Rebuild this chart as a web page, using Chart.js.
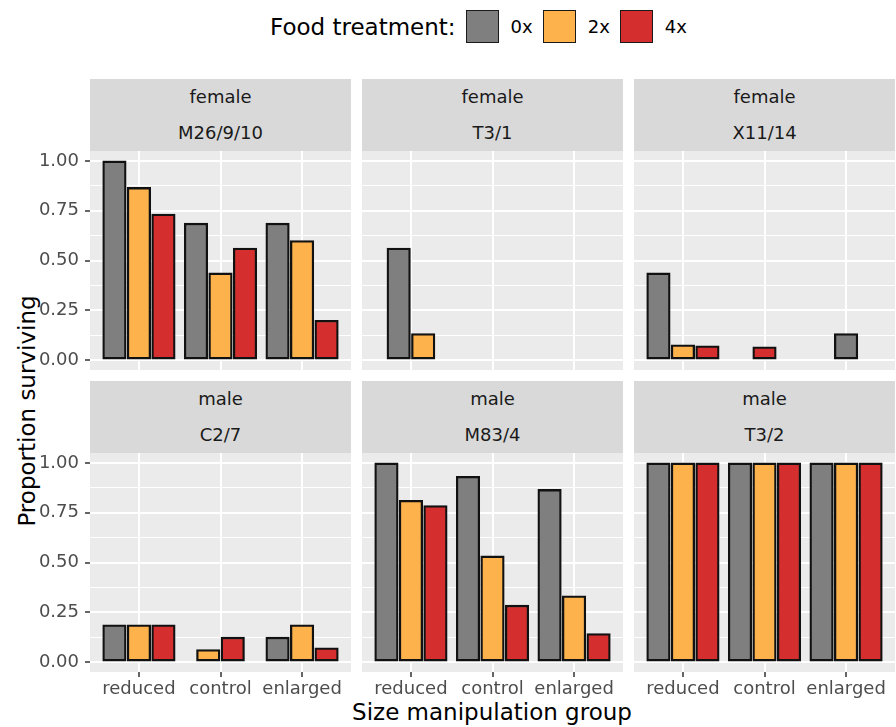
<!DOCTYPE html>
<html>
<head>
<meta charset="utf-8">
<script src="https://cdn.jsdelivr.net/npm/chart.js@4.4.1/dist/chart.umd.min.js"></script>
<style>
    body { margin: 0; width: 896px; height: 727px; position: relative; background: #fff; overflow: hidden;
           font-family: 'DejaVu Sans', sans-serif; }
    canvas { position: absolute; }
    .strip { position: absolute; background: #d9d9d9; color: #1a1a1a; font-size: 18px; text-align: center; }
    .strip div { height: 36px; line-height: 36px; }
    .title { position: absolute; color: #000; font-size: 23px; white-space: nowrap; }
    #legend { position: absolute; left: 270px; top: 10px; height: 33px; display: flex; align-items: center; }
    #legend .lt { font-size: 23px; margin-right: 10px; }
    #legend .key { width: 31px; height: 31px; border: 1.5px solid #1a1a1a; margin-right: 12px; }
    #legend .lab { font-size: 18px; margin-right: 10px; }
</style>
</head>
<body>
<div id="legend"><span class="lt">Food treatment:</span></div>
<div class="title" style="left: 492px; top: 712px; transform: translate(-50%, -50%);">Size manipulation group</div>
<div class="title" style="left: 27px; top: 411px; transform: translate(-50%, -50%) rotate(-90deg);">Proportion surviving</div>

<script>
// categories
const groups = ['reduced', 'control', 'enlarged'];
const treatments = ['0x', '2x', '4x'];
const treatmentColors = ['#7f7f7f', '#feb24c', '#d42f2e'];

// facets
const sexes = ['female', 'female', 'female', 'male', 'male', 'male'];
const lines = ['M26/9/10', 'T3/1', 'X11/14', 'C2/7', 'M83/4', 'T3/2'];

// proportion surviving, one row per food treatment (0x, 2x, 4x), columns = groups
const survM26 = [[1.00, 0.6875, 0.6875], [0.867, 0.4375, 0.60], [0.733, 0.5625, 0.20]];
const survT31 = [[0.5625, null, null], [0.133, null, null], [null, null, null]];
const survX11 = [[0.4375, null, 0.133], [0.077, null, null], [0.0714, 0.0667, null]];
const survC27 = [[0.1875, null, 0.125], [0.1875, 0.0625, 0.1875], [0.1875, 0.125, 0.0714]];
const survM83 = [[1.00, 0.933, 0.867], [0.8125, 0.533, 0.333], [0.786, 0.2857, 0.1429]];
const survT32 = [[1.00, 1.00, 1.00], [1.00, 1.00, 1.00], [1.00, 1.00, 1.00]];
const panelValues = [survM26, survT31, survX11, survC27, survM83, survT32];

const yTicks = [0, 0.25, 0.5, 0.75, 1];

// layout of the facet grid
const colLeft = [90, 362, 634];
const stripTop = [79, 381];
const plotTop = [151, 453];
const panelW = 261, plotH = 219, stripH = 72;

const FONT = "'DejaVu Sans', sans-serif";
const yGrid = [];
yTicks.forEach((v, i) => {
    yGrid.push(v);
    if (i < yTicks.length - 1) yGrid.push((v + yTicks[i + 1]) / 2);
});
const isMajor = v => yTicks.some(t => Math.abs(t - v) < 1e-9);

// legend
const legend = document.getElementById('legend');
treatments.forEach((t, k) => {
    const key = document.createElement('span');
    key.className = 'key';
    key.style.background = treatmentColors[k];
    const lab = document.createElement('span');
    lab.className = 'lab';
    lab.textContent = t;
    legend.appendChild(key);
    legend.appendChild(lab);
});

const panelBg = {
    id: 'panelBg',
    beforeDraw(chart) {
        const a = chart.chartArea;
        chart.ctx.save();
        chart.ctx.fillStyle = '#ebebeb';
        chart.ctx.fillRect(a.left, a.top, a.right - a.left, a.bottom - a.top);
        chart.ctx.restore();
    }
};

// keep the plot area exactly where the facet grid needs it
function noPad(s) {
    s.paddingLeft = 0;
    s.paddingRight = 0;
    s.paddingTop = 0;
    s.paddingBottom = 0;
}

function makePanel(i) {
    const col = i % 3, row = Math.floor(i / 3);
    const isLeft = col === 0, isBottom = row === 1;
    const axisW = isLeft ? 90 : 0;
    const axisH = isBottom ? 32 : 0;

    const strip = document.createElement('div');
    strip.className = 'strip';
    strip.style.left = colLeft[col] + 'px';
    strip.style.top = stripTop[row] + 'px';
    strip.style.width = panelW + 'px';
    strip.style.height = stripH + 'px';
    strip.innerHTML = '<div>' + sexes[i] + '</div><div>' + lines[i] + '</div>';
    document.body.appendChild(strip);

    const canvas = document.createElement('canvas');
    canvas.width = panelW + axisW;
    canvas.height = plotH + axisH;
    canvas.style.left = (colLeft[col] - axisW) + 'px';
    canvas.style.top = plotTop[row] + 'px';
    document.body.appendChild(canvas);

    const values = panelValues[i];
    const datasets = treatments.map((t, k) => ({
        label: t,
        data: groups.map((g, j) => ({ x: j + 1, y: values[k][j] })),
        backgroundColor: treatmentColors[k],
        borderColor: '#111',
        borderWidth: 2.3,
        borderSkipped: false,
        skipNull: true,
        barThickness: 24.5,
        maxBarThickness: 23.5
    }));

    new Chart(canvas.getContext('2d'), {
        type: 'bar',
        data: { datasets: datasets },
        plugins: [panelBg],
        options: {
            responsive: false,
            animation: false,
            devicePixelRatio: 1,
            layout: { padding: 0 },
            plugins: { legend: { display: false }, tooltip: { enabled: false } },
            scales: {
                x: {
                    type: 'linear',
                    min: 0.4,
                    max: 3.6,
                    bounds: 'data',
                    offset: false,
                    afterBuildTicks: s => { s.ticks = groups.map((g, j) => ({ value: j + 1 })); },
                    afterFit: s => { s.height = axisH; noPad(s); },
                    ticks: {
                        display: isBottom,
                        autoSkip: false,
                        maxRotation: 0,
                        padding: 2,
                        color: '#4d4d4d',
                        font: { family: FONT, size: 18 },
                        callback: v => groups[Math.round(v) - 1]
                    },
                    grid: {
                        offset: false,
                        color: '#ffffff',
                        lineWidth: 2,
                        drawTicks: isBottom,
                        tickLength: 5,
                        tickColor: '#333333',
                        tickWidth: 1.5
                    },
                    border: { display: false }
                },
                y: {
                    min: -0.05,
                    max: 1.05,
                    bounds: 'data',
                    afterBuildTicks: s => { s.ticks = yGrid.map(v => ({ value: v })); },
                    afterFit: s => { s.width = axisW; noPad(s); },
                    ticks: {
                        display: isLeft,
                        autoSkip: false,
                        padding: 6,
                        color: '#4d4d4d',
                        font: { family: FONT, size: 18 },
                        callback: v => isMajor(v) ? v.toFixed(2) : ''
                    },
                    grid: {
                        color: '#ffffff',
                        lineWidth: c => isMajor(c.tick.value) ? 2 : 1,
                        drawTicks: isLeft,
                        tickLength: 5,
                        tickColor: c => isMajor(c.tick.value) ? '#333333' : 'rgba(0,0,0,0)',
                        tickWidth: 1.5
                    },
                    border: { display: false }
                }
            }
        }
    });
}

for (let i = 0; i < 6; i++) makePanel(i);
</script>
</body>
</html>
